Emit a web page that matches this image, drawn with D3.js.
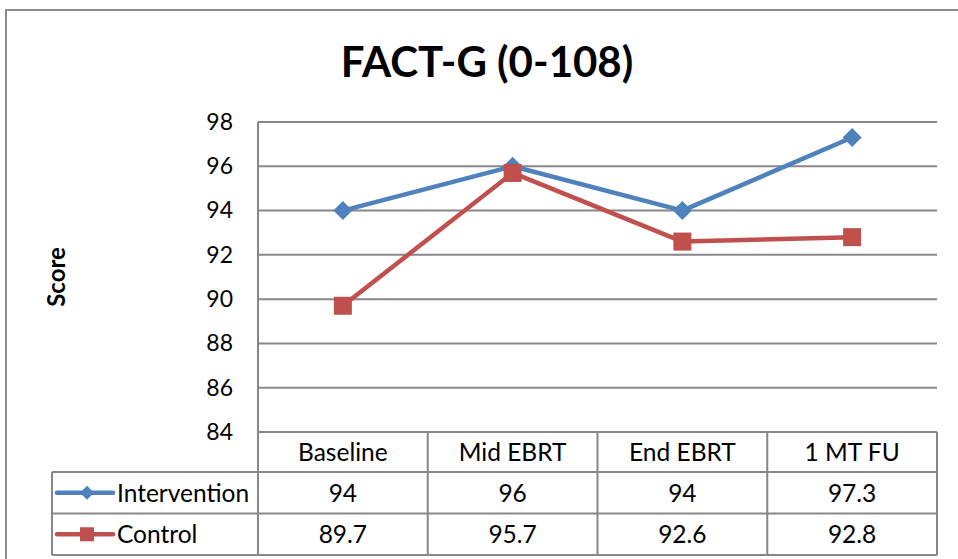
<!DOCTYPE html>
<html>
<head>
<meta charset="utf-8">
<script src="https://cdn.jsdelivr.net/npm/d3@7"></script>
<style>
  body { margin: 0; background: #fff; }
  svg { display: block; font-family: Lato, "Open Sans", sans-serif; }
</style>
</head>
<body>
<script>
const categories = ['Baseline', 'Mid EBRT', 'End EBRT', '1 MT FU'];
const intervention = [94, 96, 94, 97.3];
const control = [89.7, 95.7, 92.6, 92.8];
const yTicks = [84, 86, 88, 90, 92, 94, 96, 98];

const series = [
  {name: 'Intervention', values: intervention, color: '#4F81BD', marker: 'diamond'},
  {name: 'Control', values: control, color: '#C0504D', marker: 'square'}
];

const width = 958, height = 559;
const plot = {left: 258, right: 937, top: 122, bottom: 432};
const tableLeft = 52, rowH = 41.5;
const gridColor = '#878787';
const cellFont = 24.5;

const svg = d3.select('body').append('svg')
  .attr('width', width)
  .attr('height', height);

// outer chart frame
svg.append('rect')
  .attr('x', 6).attr('y', 10)
  .attr('width', 980).attr('height', 600)
  .attr('fill', 'none')
  .attr('stroke', '#8c8c8c')
  .attr('stroke-width', 2);

const x = d3.scaleBand().domain(categories).range([plot.left, plot.right]);
const y = d3.scaleLinear().domain([84, 98]).range([plot.bottom, plot.top]);

// title
svg.append('text')
  .attr('x', 487).attr('y', 77)
  .attr('text-anchor', 'middle')
  .attr('font-size', 42)
  .attr('font-weight', 'bold')
  .text('FACT-G (0-108)');

// y axis title
svg.append('text')
  .attr('transform', 'translate(65,277) rotate(-90)')
  .attr('text-anchor', 'middle')
  .attr('font-size', 24)
  .attr('font-weight', 'bold')
  .text('Score');

// gridlines
svg.append('g')
  .selectAll('line')
  .data(yTicks)
  .enter().append('line')
  .attr('x1', plot.left).attr('x2', plot.right)
  .attr('y1', d => y(d)).attr('y2', d => y(d))
  .attr('stroke', gridColor)
  .attr('stroke-width', 2);

// y axis with d3 axis, restyled
const yAxis = svg.append('g')
  .attr('transform', 'translate(' + plot.left + ',0)')
  .call(d3.axisLeft(y).tickValues(yTicks).tickSize(0).tickPadding(25));
yAxis.select('.domain').remove();
yAxis.selectAll('text')
  .attr('font-family', 'Lato, "Open Sans", sans-serif')
  .attr('font-size', 23)
  .attr('fill', '#000');

// data table
const rowsY = [plot.bottom, plot.bottom + 40, plot.bottom + 40 + rowH, plot.bottom + 40 + 2 * rowH];
const table = svg.append('g').attr('stroke', gridColor).attr('stroke-width', 2);

rowsY.slice(1).forEach(ry => {
  table.append('line')
    .attr('x1', tableLeft).attr('x2', plot.right)
    .attr('y1', ry).attr('y2', ry);
});
table.append('line')
  .attr('x1', tableLeft).attr('x2', tableLeft)
  .attr('y1', rowsY[1]).attr('y2', rowsY[3]);
table.append('line')
  .attr('x1', plot.left).attr('x2', plot.left)
  .attr('y1', plot.top).attr('y2', rowsY[3]);
categories.forEach(c => {
  const xr = x(c) + x.bandwidth();
  table.append('line')
    .attr('x1', xr).attr('x2', xr)
    .attr('y1', plot.bottom).attr('y2', rowsY[3]);
});

// category labels
svg.append('g')
  .selectAll('text')
  .data(categories)
  .enter().append('text')
  .attr('x', d => x(d) + x.bandwidth() / 2)
  .attr('y', (rowsY[0] + rowsY[1]) / 2 + 9)
  .attr('text-anchor', 'middle')
  .attr('font-size', cellFont)
  .text(d => d);

function marker(g, type, cx, cy, s, color) {
  if (type === 'diamond') {
    g.append('path')
      .attr('d', `M${cx},${cy - s}L${cx + s},${cy}L${cx},${cy + s}L${cx - s},${cy}Z`)
      .attr('fill', color);
  } else {
    g.append('rect')
      .attr('x', cx - s).attr('y', cy - s)
      .attr('width', 2 * s).attr('height', 2 * s)
      .attr('fill', color);
  }
}

// series rows
series.forEach((s, i) => {
  const cy = (rowsY[i + 1] + rowsY[i + 2]) / 2;
  const row = svg.append('g');
  row.append('line')
    .attr('x1', 57).attr('x2', 113)
    .attr('y1', cy).attr('y2', cy)
    .attr('stroke', s.color)
    .attr('stroke-width', 4.5)
    .attr('stroke-linecap', 'round');
  marker(row, s.marker, 87, cy, 7, s.color);
  row.append('text')
    .attr('x', 117).attr('y', cy + 9)
    .attr('font-size', cellFont)
    .text(s.name);
  row.selectAll('.val')
    .data(s.values)
    .enter().append('text')
    .attr('x', (d, j) => x(categories[j]) + x.bandwidth() / 2)
    .attr('y', cy + 9)
    .attr('text-anchor', 'middle')
    .attr('font-size', cellFont)
    .text(d => d);
});

// lines and markers
const line = d3.line()
  .x((d, j) => x(categories[j]) + x.bandwidth() / 2)
  .y(d => y(d));

series.forEach(s => {
  const g = svg.append('g');
  g.append('path')
    .datum(s.values)
    .attr('d', line)
    .attr('fill', 'none')
    .attr('stroke', s.color)
    .attr('stroke-width', 4.5)
    .attr('stroke-linejoin', 'round');
  s.values.forEach((v, j) => {
    marker(g, s.marker, x(categories[j]) + x.bandwidth() / 2, y(v),
      s.marker === 'diamond' ? 9.5 : 9, s.color);
  });
});
</script>
</body>
</html>
